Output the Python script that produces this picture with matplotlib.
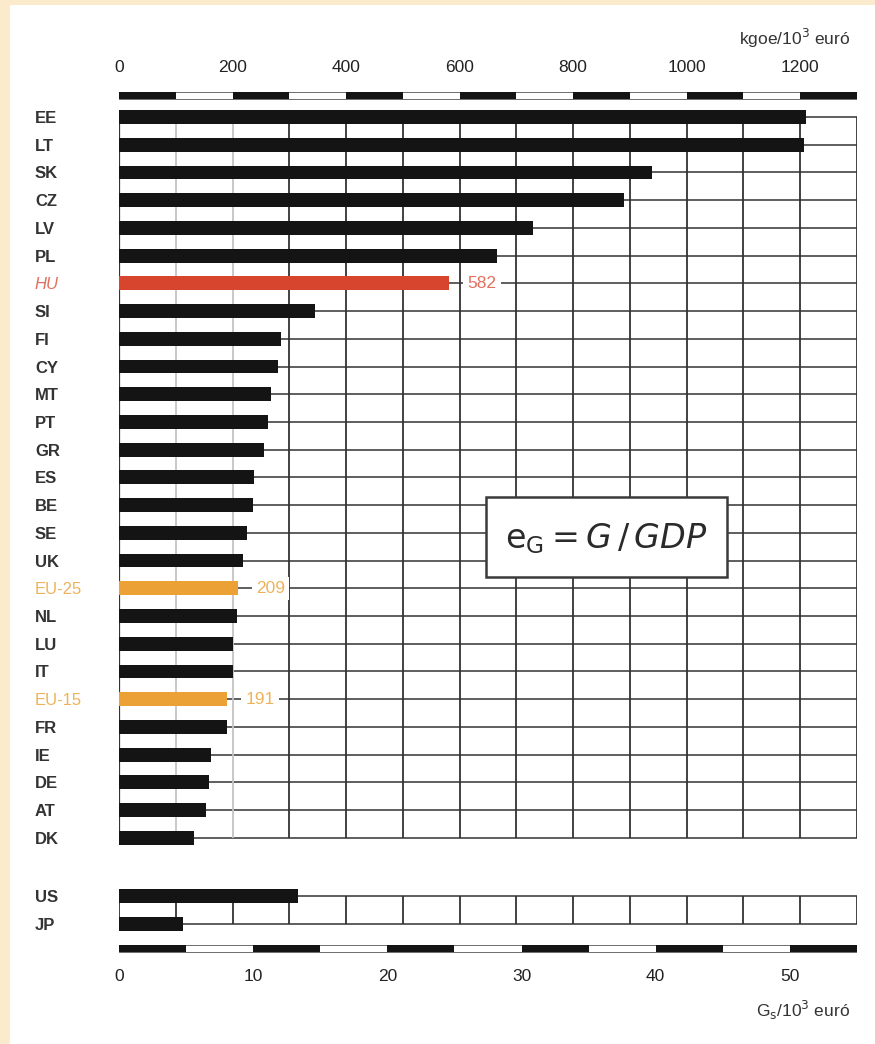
import numpy as np
import matplotlib
matplotlib.use('Agg')
import matplotlib.pyplot as plt
from matplotlib.patches import Rectangle

plt.rcParams['font.family'] = ['Liberation Sans Narrow', 'Liberation Sans', 'DejaVu Sans']
plt.rcParams['mathtext.fontset'] = 'dejavusans'

# energia-intenzitás, kgoe / 10^3 euró
countries = ['EE', 'LT', 'SK', 'CZ', 'LV', 'PL', 'HU', 'SI', 'FI', 'CY', 'MT', 'PT', 'GR', 'ES',
             'BE', 'SE', 'UK', 'EU-25', 'NL', 'LU', 'IT', 'EU-15', 'FR', 'IE', 'DE', 'AT', 'DK']
values = [1210, 1207, 939, 890, 729, 666, 582, 345, 285, 280, 268, 262, 255, 238,
          236, 225, 218, 209, 208, 201, 201, 191, 190, 162, 158, 153, 132]
others = ['US', 'JP']
other_values = [315, 113]
marked = {'HU': '582', 'EU-25': '209', 'EU-15': '191'}

top_ticks = [0, 200, 400, 600, 800, 1000, 1200]
top_labels = ['0', '200', '400', '600', '800', '1000', '1200']
bottom_ticks = [0, 10, 20, 30, 40, 50]
XMAX = 1300
BMAX = 55

BLACK = '#141414'
RED = '#d8452f'
ORANGE = '#eba135'
GRID = '#333333'


def bar_color(c):
    if c == 'HU':
        return RED
    if c.startswith('EU'):
        return ORANGE
    return BLACK


rows = np.arange(len(countries))
other_rows = np.array([28.1, 29.1])

fig = plt.figure(figsize=(8.75, 10.44), dpi=100, facecolor='#fbeacb')
fig.patches.append(Rectangle((10 / 875, 0), 1, 1 - 5 / 1044, transform=fig.transFigure,
                             facecolor='white', edgecolor='none', zorder=-10))

ax = fig.add_axes([119 / 875, 1 - 962.5 / 1044, 738 / 875, 873.2 / 1044])
ax.set_facecolor('none')
ax.set_xlim(0, XMAX)
ax.set_ylim(30.5, -1.0)
for s in ax.spines.values():
    s.set_visible(False)

# raster
grid_x = np.arange(0, XMAX + 1, 100)
ax.hlines(rows, 0, XMAX, color=GRID, lw=1.1, zorder=1)
for gx in grid_x:
    col = '#c4c4c4' if gx in (100, 200) else GRID
    ax.vlines(gx, rows[0], rows[-1], color=col, lw=1.3, zorder=1)
ax.vlines(0, rows[0], rows[-1], color=GRID, lw=1.6, zorder=1)
ax.hlines(other_rows, 0, XMAX, color=GRID, lw=1.1, zorder=1)
ax.vlines(grid_x, other_rows[0], other_rows[1], color=GRID, lw=1.3, zorder=1)

# oszlopok
ax.barh(rows, values, height=0.5, color=[bar_color(c) for c in countries], zorder=3)
ax.barh(other_rows, other_values, height=0.5, color=BLACK, zorder=3)

for c, txt in marked.items():
    i = countries.index(c)
    col = '#e2705f' if c == 'HU' else '#eeb35a'
    ax.text(values[i] + 32, rows[i], txt, ha='left', va='center', fontsize=12.5, color=col,
            zorder=4, bbox=dict(facecolor='white', edgecolor='none', pad=3))

# skála sávok
top_y, bot_y, band_h = -0.79, 29.98, 0.25
ax.add_patch(Rectangle((0, top_y - band_h / 2), XMAX, band_h, facecolor='white',
                       edgecolor='#555555', lw=0.6, zorder=2))
ax.broken_barh([(x, 100) for x in range(0, XMAX, 200)], (top_y - band_h / 2, band_h),
               facecolors=BLACK, zorder=3)
seg = XMAX / BMAX * 5
ax.add_patch(Rectangle((0, bot_y - band_h / 2), XMAX, band_h, facecolor='white',
                       edgecolor='#555555', lw=0.6, zorder=2))
ax.broken_barh([(k * seg, seg) for k in range(0, 11, 2)], (bot_y - band_h / 2, band_h),
               facecolors=BLACK, zorder=3)

# képlet doboz
ax.add_patch(Rectangle((646, 13.7), 425, 2.9, facecolor='white', edgecolor='#3a3a3a',
                       lw=1.8, zorder=5))
ax.text(858, 15.2, r'$\mathrm{e}_{\mathrm{G}} = G\,/\,GDP$', ha='center', va='center',
        fontsize=24, color='#2a2a2a', zorder=6)

# tengelyek
ax.set_xticks(top_ticks, top_labels)
ax.tick_params(axis='x', top=True, bottom=False, labeltop=True, labelbottom=False,
               length=0, pad=10, labelsize=12.5, labelcolor='#222222')

sec = ax.secondary_xaxis('bottom', functions=(lambda x: x * BMAX / XMAX,
                                              lambda x: x * XMAX / BMAX))
sec.set_xticks(bottom_ticks)
sec.tick_params(length=0, pad=4.5, labelsize=12.5, labelcolor='#222222')
for s in sec.spines.values():
    s.set_visible(False)

ax.set_yticks(list(rows) + list(other_rows), countries + others)
ax.tick_params(axis='y', length=0, pad=60.5, labelsize=12)
for lbl in ax.get_yticklabels():
    lbl.set_horizontalalignment('left')
    lbl.set_family(['Liberation Sans', 'DejaVu Sans'])
    lbl.set_weight('bold')
    t = lbl.get_text()
    if t == 'HU':
        lbl.set_color('#e2705f')
        lbl.set_style('italic')
        lbl.set_weight('normal')
    elif t.startswith('EU'):
        lbl.set_color('#eeb35a')
        lbl.set_weight('normal')
    else:
        lbl.set_color('#333333')

fig.text(850 / 875, 1 - 38 / 1044, 'kgoe/10$^3$ euró', ha='right', va='center',
         fontsize=12.5, color='#333333')
fig.text(850 / 875, 1 - 1010 / 1044, 'G$_{\\mathrm{s}}$/10$^3$ euró', ha='right', va='center',
         fontsize=12.5, color='#333333')

fig.savefig('out.png', dpi=100, facecolor=fig.get_facecolor())
